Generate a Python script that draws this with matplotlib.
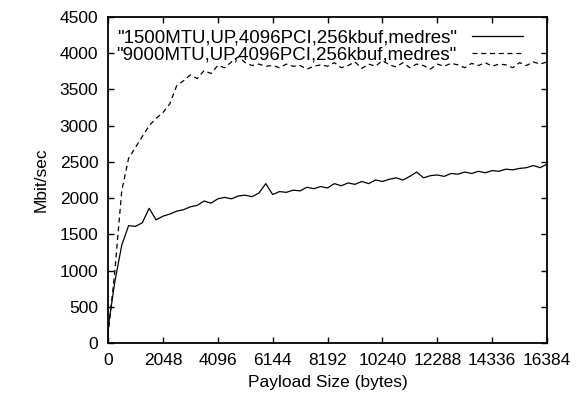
import matplotlib
matplotlib.use("Agg")
import matplotlib.pyplot as plt

# payload sizes (bytes)
payload = [0, 256, 512, 768, 1024, 1280, 1536, 1792, 2048, 2304, 2560, 2816,
           3072, 3328, 3584, 3840, 4096, 4352, 4608, 4864, 5120, 5376, 5632,
           5888, 6144, 6400, 6656, 6912, 7168, 7424, 7680, 7936, 8192, 8448,
           8704, 8960, 9216, 9472, 9728, 9984, 10240, 10496, 10752, 11008,
           11264, 11520, 11776, 12032, 12288, 12544, 12800, 13056, 13312,
           13568, 13824, 14080, 14336, 14592, 14848, 15104, 15360, 15616,
           15872, 16128, 16384]

# 1500 MTU throughput (Mbit/sec)
mtu1500 = [200, 850, 1350, 1620, 1610, 1660, 1860, 1700, 1750, 1780, 1820,
           1840, 1880, 1900, 1960, 1930, 1990, 2010, 1990, 2030, 2040, 2020,
           2070, 2200, 2050, 2090, 2080, 2110, 2100, 2150, 2130, 2160, 2140,
           2200, 2170, 2210, 2190, 2230, 2200, 2250, 2230, 2260, 2280, 2250,
           2300, 2360, 2280, 2310, 2320, 2300, 2340, 2330, 2360, 2340, 2370,
           2350, 2380, 2370, 2400, 2390, 2410, 2420, 2450, 2420, 2470]

# 9000 MTU throughput (Mbit/sec)
mtu9000 = [100, 1000, 2100, 2550, 2700, 2850, 3000, 3100, 3180, 3300, 3550,
           3620, 3700, 3650, 3760, 3720, 3830, 3800, 3880, 3950, 3870, 3830,
           3850, 3820, 3830, 3800, 3850, 3820, 3830, 3780, 3820, 3840, 3820,
           3870, 3800, 3830, 3880, 3790, 3850, 3820, 3900, 3840, 3810, 3870,
           3800, 3850, 3830, 3780, 3850, 3820, 3860, 3840, 3800, 3860, 3830,
           3870, 3820, 3850, 3840, 3800, 3870, 3830, 3880, 3850, 3880]

labels = ['"1500MTU,UP,4096PCI,256kbuf,medres"',
          '"9000MTU,UP,4096PCI,256kbuf,medres"']
xticks = [0, 2048, 4096, 6144, 8192, 10240, 12288, 14336, 16384]
yticks = [0, 500, 1000, 1500, 2000, 2500, 3000, 3500, 4000, 4500]

plt.rcParams['font.family'] = ['Liberation Sans', 'DejaVu Sans']
plt.rcParams['font.size'] = 12.5

fig = plt.figure(figsize=(5.82, 4.01), dpi=100)
ax = fig.add_axes([0.1856, 0.1446, 0.7543, 0.813])

ax.plot(payload, mtu1500, color='black', lw=0.9, label=labels[0])
ax.plot(payload, mtu9000, color='black', lw=0.9, dashes=(4, 3), label=labels[1])

ax.set_xlim(0, 16384)
ax.set_ylim(0, 4500)
ax.set_xticks(xticks)
ax.set_yticks(yticks)
ax.tick_params(direction='in', length=4.5, width=1, top=True, right=True,
               pad=7)
for s in ax.spines.values():
    s.set_linewidth(1.3)

ax.set_xlabel('Payload Size (bytes)', labelpad=5)
ax.set_ylabel('Mbit/sec', labelpad=8)

ax.legend(loc='upper right', bbox_to_anchor=(0.945, 0.962), frameon=False,
          markerfirst=False, handlelength=2.75, handletextpad=0.8,
          labelspacing=0.0, borderaxespad=0, borderpad=0, fontsize=13.4)

fig.savefig('out.png', dpi=100)
